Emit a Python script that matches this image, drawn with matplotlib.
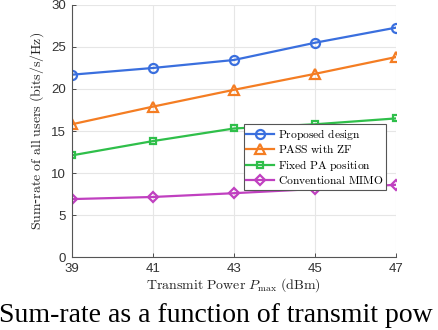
import matplotlib
matplotlib.use("Agg")
import matplotlib.pyplot as plt

plt.rcParams['mathtext.fontset'] = 'cm'

power = [39, 41, 43, 45, 47]
proposed = [21.7, 22.5, 23.45, 25.5, 27.3]
pass_zf = [15.8, 17.9, 19.9, 21.8, 23.8]
fixed_pa = [12.1, 13.8, 15.3, 15.8, 16.5]
mimo = [6.9, 7.15, 7.6, 8.1, 8.6]

labels = [r'$\mathrm{Proposed\ design}$', r'$\mathrm{PASS\ with\ ZF}$',
          r'$\mathrm{Fixed\ PA\ position}$', r'$\mathrm{Conventional\ MIMO}$']

fig = plt.figure(figsize=(4.38, 3.30), dpi=100)
ax = fig.add_axes([0.164, 0.221, 0.740, 0.764])

lw = 1.6
ax.plot(power, proposed, color='#3a6fde', lw=lw, marker='o', ms=6.5, mfc='none', mew=1.6, label=labels[0])
ax.plot(power, pass_zf, color='#f47d23', lw=lw, marker='^', ms=7, mfc='none', mew=1.6, label=labels[1])
ax.plot(power, fixed_pa, color='#2fbf4a', lw=lw, marker='s', ms=5, mfc='none', mew=1.6, label=labels[2])
ax.plot(power, mimo, color='#c040c0', lw=lw, marker='D', ms=5.5, mfc='none', mew=1.6, label=labels[3])

ax.set_xlim(39, 47)
ax.set_ylim(0, 30)
ax.set_xticks(power)
ax.set_yticks([0, 5, 10, 15, 20, 25, 30])
ax.grid(True, color='#e6e6e6', lw=0.8)
ax.set_axisbelow(True)
for s in ['top', 'right']:
    ax.spines[s].set_visible(False)
for s in ['left', 'bottom']:
    ax.spines[s].set_color('#555555')
    ax.spines[s].set_linewidth(0.8)
ax.tick_params(labelsize=9.5, colors='#333333', direction='in', length=3, width=0.6, pad=4)
for t in ax.get_xticklabels() + ax.get_yticklabels():
    t.set_fontfamily('Liberation Sans')

ax.set_xlabel(r'$\mathrm{Transmit\ Power}\ P_{\max}\ \mathrm{(dBm)}$', fontsize=10, color='#222222', labelpad=1)
ax.set_ylabel(r'$\mathrm{Sum}$-$\mathrm{rate\ of\ all\ users\ (bits/s/Hz)}$', fontsize=10, color='#222222', labelpad=4)

leg = ax.legend(loc='upper left', bbox_to_anchor=(0.53, 0.528), fontsize=8.3, frameon=True,
                fancybox=False, edgecolor='#555555', framealpha=1, borderpad=0.25,
                labelspacing=0.12, handlelength=2.4, handletextpad=0.3, borderaxespad=0)
leg.get_frame().set_linewidth(0.8)

fig.text(-0.002, 0.045, 'Sum-rate as a function of transmit pow', fontsize=20,
         family='Liberation Serif', va='center', ha='left', color='black')

fig.savefig('out.png', dpi=100)
